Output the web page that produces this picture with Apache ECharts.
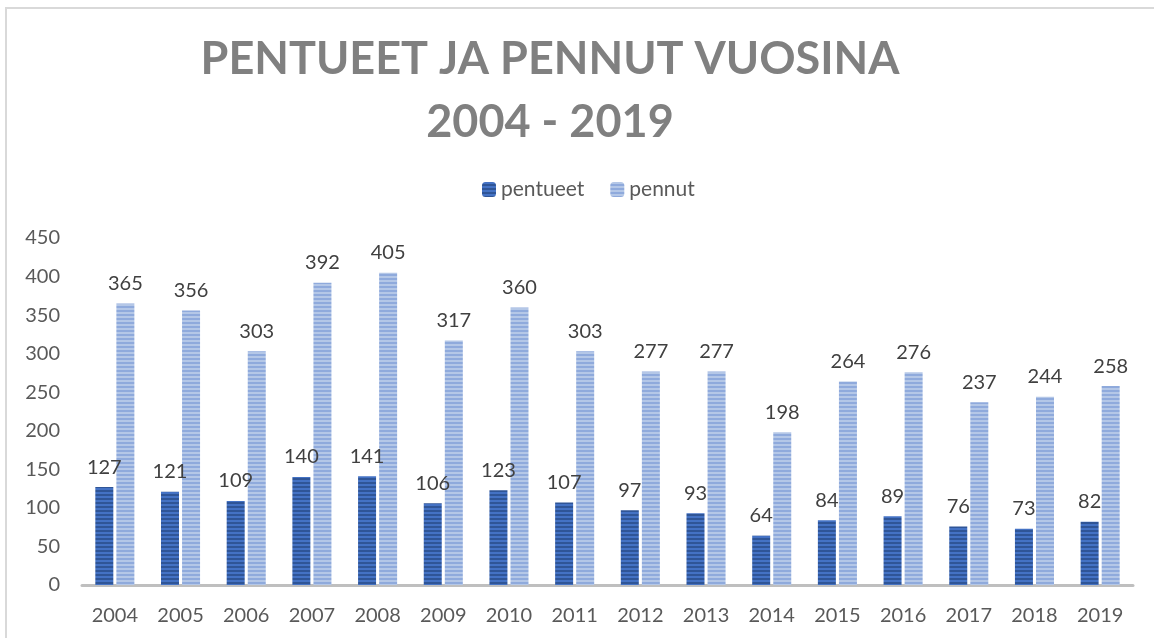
<!DOCTYPE html>
<html>
<head>
<meta charset="utf-8">
<script src="https://cdn.jsdelivr.net/npm/echarts@6/dist/echarts.min.js"></script>
<style>
  html, body { margin: 0; padding: 0; background: #fff; }
  #chart { width: 1154px; height: 638px; }
</style>
</head>
<body>
<div id="chart"></div>
<script type="text/javascript">
    var years = ['2004','2005','2006','2007','2008','2009','2010','2011','2012','2013','2014','2015','2016','2017','2018','2019'];
    var pentueet = [127,121,109,140,141,106,123,107,97,93,64,84,89,76,73,82];
    var pennut = [365,356,303,392,405,317,360,303,277,277,198,264,276,237,244,258];
    var yTicks = [0,50,100,150,200,250,300,350,400,450];

    // raidallinen täyttö pylväisiin
    function stripes(base, line) {
        var c = document.createElement('canvas');
        c.width = 4; c.height = 4;
        var ctx = c.getContext('2d');
        ctx.fillStyle = base;
        ctx.fillRect(0, 0, 4, 4);
        ctx.fillStyle = line;
        ctx.fillRect(0, 2, 4, 2);
        return { image: c, repeat: 'repeat' };
    }

    var myChart = echarts.init(document.getElementById('chart'));
    var labelStyle = { show: true, position: 'top', distance: 10, color: '#404040', fontSize: 20, fontFamily: 'Lato' };
    var option = {
        animation: false,
        title: {
            text: 'PENTUEET JA PENNUT VUOSINA\n2004 - 2019',
            left: 545,
            top: 23,
            textAlign: 'center',
            textStyle: { color: '#808080', fontSize: 45, fontWeight: 'bold', fontFamily: 'Lato', lineHeight: 63 }
        },
        legend: {
            data: ['pentueet', 'pennut'],
            top: 174,
            left: 477,
            itemWidth: 14,
            itemHeight: 15,
            itemGap: 26,
            textStyle: { color: '#595959', fontSize: 21, fontFamily: 'Lato' }
        },
        graphic: [{
            type: 'rect',
            shape: { x: 6, y: 8, width: 1200, height: 700 },
            style: { fill: 'none', stroke: '#d9d9d9', lineWidth: 2 },
            silent: true
        }],
        grid: { left: 82, right: 21, top: 238, bottom: 53 },
        xAxis: {
            type: 'category',
            data: years,
            axisLine: { lineStyle: { color: '#bfbfbf', width: 3 } },
            axisTick: { show: false },
            axisLabel: { color: '#595959', fontSize: 20, fontFamily: 'Lato', margin: 21 }
        },
        yAxis: {
            type: 'value',
            min: 0,
            max: yTicks[yTicks.length - 1],
            interval: 50,
            splitLine: { show: false },
            axisLine: { show: false },
            axisTick: { show: false },
            axisLabel: { color: '#595959', fontSize: 20, fontFamily: 'Lato', margin: 22 }
        },
        series: [{
            name: 'pentueet',
            type: 'bar',
            barWidth: 18,
            barGap: '17%',
            data: pentueet,
            itemStyle: { color: stripes('#4472c4', '#2f5597') },
            label: labelStyle
        }, {
            name: 'pennut',
            type: 'bar',
            barWidth: 18,
            barGap: '17%',
            data: pennut,
            itemStyle: { color: stripes('#b4c7e7', '#8faadc') },
            label: labelStyle
        }]
    };
    myChart.setOption(option);
</script>
</body>
</html>
